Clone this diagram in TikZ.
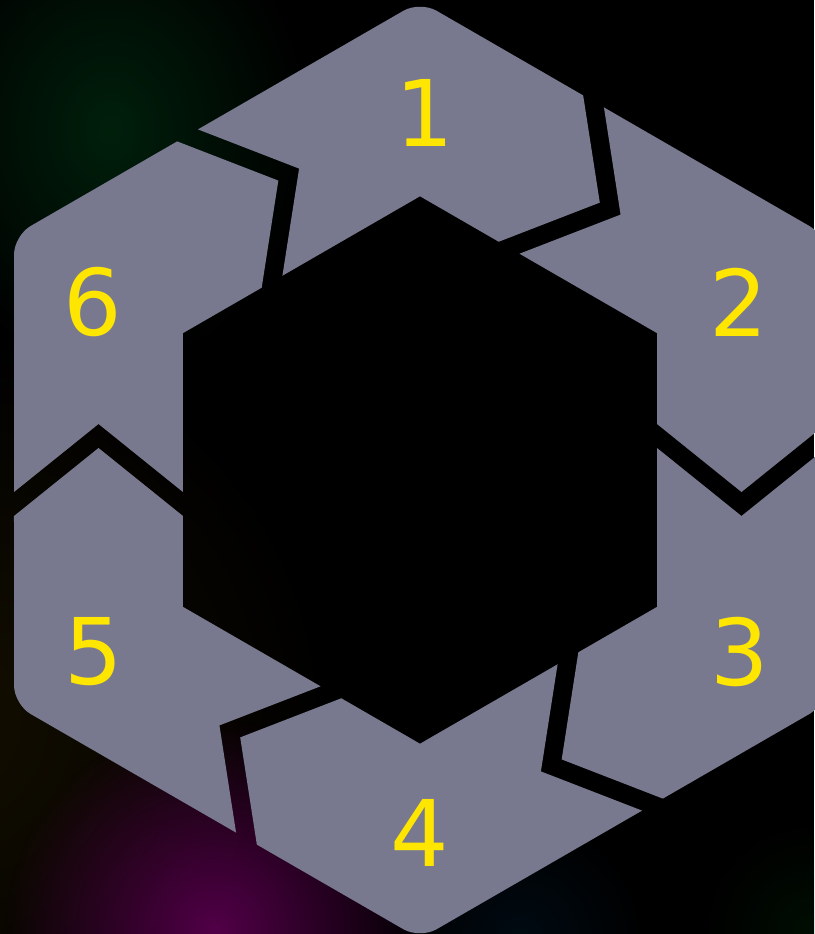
\documentclass[tikz,border=0pt]{standalone}
\usepackage{fontspec}
\setmainfont{DejaVu Sans}
\usetikzlibrary{fadings}
\tikzfading[name=glowfade, inner color=transparent!0, outer color=transparent!100]
\definecolor{segfill}{RGB}{120,120,143}
\definecolor{numyellow}{RGB}{255,230,0}
\definecolor{glowgreen}{RGB}{0,32,12}
\definecolor{glowmag}{RGB}{82,0,72}
\definecolor{glowbrown}{RGB}{20,15,0}
\definecolor{glowteal}{RGB}{0,11,19}
\definecolor{glowdkgreen}{RGB}{0,13,3}
\begin{document}
\begin{tikzpicture}[x=1pt,y=1pt,
  num/.style={text=numyellow, font=\fontsize{92}{92}\selectfont, inner sep=0pt},
  seg/.style={fill=segfill, even odd rule}]
\useasboundingbox (0,0) rectangle (814,-934);
\fill[black] (0,0) rectangle (814,-934);
\begin{scope}
  \clip (0,0) rectangle (814,-934);
  \fill[glowbrown, path fading=glowfade] (-60,-720) circle (400);
  \fill[glowgreen, path fading=glowfade] (110,-130) ellipse (200 and 240);
  \fill[glowmag, path fading=glowfade] (215,-930) circle (210);
  \fill[glowteal, path fading=glowfade] (520,-940) circle (130);
  \fill[glowdkgreen, path fading=glowfade] (810,-930) circle (110);
\end{scope}
\foreach \k in {0,...,5}{
  \begin{scope}[shift={(420,-470)}, rotate=-60*\k]
    \clip (0,0) -- (-144.9,147.3) -- (-120.9,301.4) -- (-310.6,374.9) -- (0,700)
      -- (148.6,468.4) -- (179.8,267.4) -- (34.4,211.1) -- cycle;
    \fill[seg, rounded corners=19pt] (60:406) -- (30:468.8) -- (-30:468.8) -- (-90:468.8)
      -- (-150:468.8) -- (150:468.8) -- (90:468.8) -- cycle
      [sharp corners] (90:273.7) -- (30:273.7) -- (-30:273.7) -- (-90:273.7)
      -- (-150:273.7) -- (150:273.7) -- cycle;
  \end{scope}}
\node[num] (l1) at (425,-113) {1};
\node[num] (l2) at (739,-302) {2};
\node[num] (l3) at (740,-652) {3};
\node[num] (l4) at (420,-833) {4};
\node[num] (l5) at (94,-652) {5};
\node[num] (l6) at (93,-302) {6};
\end{tikzpicture}
\end{document}
